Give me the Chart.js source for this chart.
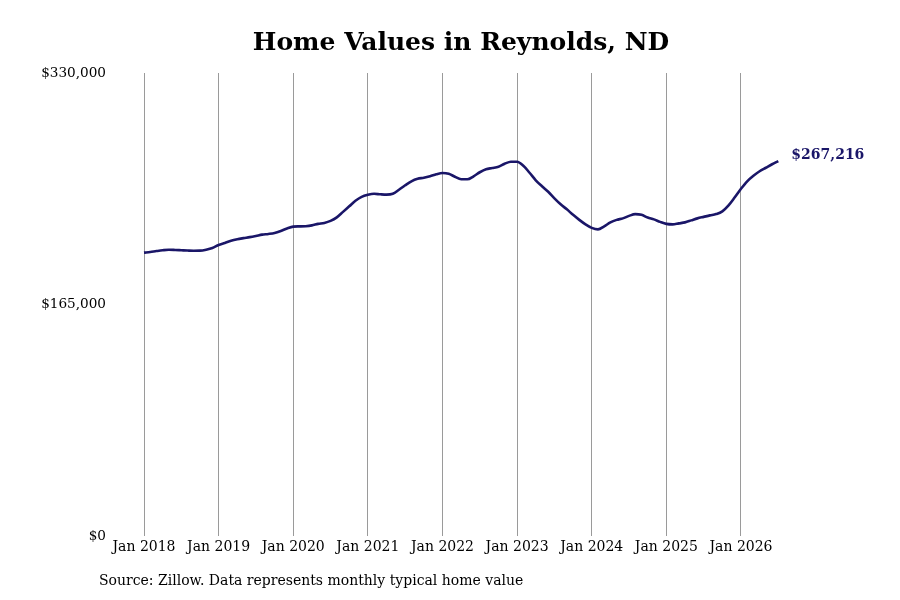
<!DOCTYPE html>
<html>
<head>
<meta charset="utf-8">
<script src="https://cdn.jsdelivr.net/npm/chart.js@4.4.1/dist/chart.umd.min.js"></script>
<style>
  html, body { margin: 0; padding: 0; background: #ffffff; }
  #wrap { width: 900px; height: 600px; position: relative; }
</style>
</head>
<body>
<div id="wrap"><canvas id="c" width="900" height="600"></canvas></div>
<script>
// ---- data (monthly typical home value, Jan 2018 .. Jul 2026) ----
const startYear = 2018;
const homeValues = [
  // 2018
  202000, 202500, 203143, 203714, 204071, 203929, 203714, 203500, 203357, 203429, 204143, 205357,
  // 2019
  207500, 208929, 210500, 211571, 212357, 213071, 213929, 214857, 215357, 216071, 217500, 219286,
  // 2020
  220571, 220714, 220857, 221429, 222500, 223214, 224643, 227143, 231071, 235000, 238929, 241786,
  // 2021
  243214, 243929, 243571, 243357, 243929, 246786, 250000, 252857, 254643, 255357, 256429, 257857,
  // 2022
  258786, 258214, 256071, 254286, 254286, 256429, 259286, 261429, 262286, 263214, 265357, 266786,
  // 2023
  266786, 263929, 258929, 253571, 249286, 245357, 240714, 236429, 232857, 228929, 225357, 222143,
  // 2024
  219643, 218571, 220714, 223571, 225357, 226429, 228214, 229429, 228929, 227000, 225714, 223929,
  // 2025
  222500, 222143, 222857, 223571, 225000, 226429, 227500, 228571, 229500, 231429, 235714, 241429,
  // 2026
  247500, 252857, 256786, 260000, 262500, 265000, 267216
];
const xTickLabels = ["Jan 2018","Jan 2019","Jan 2020","Jan 2021","Jan 2022","Jan 2023","Jan 2024","Jan 2025","Jan 2026"];
const yTickValues = [0, 165000, 330000];
const yTickLabels = ["$0", "$165,000", "$330,000"];
const titleText = "Home Values in Reynolds, ND";
const sourceText = "Source: Zillow. Data represents monthly typical home value";
const endLabel = "$267,216";

const points = homeValues.map((v, i) => ({ x: i, y: v }));
const FONT = "'DejaVu Serif', serif";
const NAVY = "#1a1668";
// x range extends past the last month to leave room for the end label
const xMax = (homeValues.length - 1) * 756 / 634.3;

const extraText = {
  id: 'extraText',
  afterDatasetsDraw(chart) {
    const ctx = chart.ctx;
    const xs = chart.scales.x, ys = chart.scales.y;
    const last = points[points.length - 1];
    const px = xs.getPixelForValue(last.x), py = ys.getPixelForValue(last.y);
    ctx.save();
    ctx.font = "bold 14px " + FONT;
    ctx.fillStyle = NAVY;
    ctx.textAlign = 'left';
    ctx.textBaseline = 'middle';
    ctx.fillText(endLabel, px + 13, py - 6);
    ctx.font = "14px " + FONT;
    ctx.fillStyle = "#000000";
    ctx.fillText(sourceText, 99, 581);
    ctx.restore();
  }
};

new Chart(document.getElementById('c'), {
  type: 'line',
  data: {
    datasets: [{
      data: points,
      borderColor: NAVY,
      borderWidth: 2.6,
      pointRadius: 0,
      cubicInterpolationMode: 'monotone',
      fill: false,
      clip: false
    }]
  },
  options: {
    responsive: false,
    devicePixelRatio: 1,
    animation: false,
    layout: { padding: { left: 22, right: 0, top: 0, bottom: 41 } },
    plugins: {
      legend: { display: false },
      tooltip: { enabled: false },
      title: {
        display: true,
        text: titleText,
        color: '#000000',
        font: { family: FONT, size: 25, weight: 'bold', lineHeight: 1.2 },
        padding: { top: 28, bottom: 15 }
      }
    },
    scales: {
      x: {
        type: 'linear',
        min: 0,
        max: xMax,
        afterBuildTicks(scale) {
          scale.ticks = xTickLabels.map((_, i) => ({ value: i * 12 }));
        },
        ticks: {
          autoSkip: false,
          maxRotation: 0,
          padding: 3,
          color: '#000000',
          font: { family: FONT, size: 14 },
          callback: (v) => xTickLabels[Math.round(v / 12)]
        },
        grid: { display: true, color: '#9a9a9a', lineWidth: 1, drawTicks: false },
        border: { display: false }
      },
      y: {
        type: 'linear',
        min: 0,
        max: 330000,
        afterBuildTicks(scale) {
          scale.ticks = yTickValues.map(v => ({ value: v }));
        },
        afterFit(scale) { scale.width = 122; },
        ticks: {
          padding: 38,
          color: '#000000',
          font: { family: FONT, size: 13.6 },
          callback: (v) => yTickLabels[yTickValues.indexOf(v)]
        },
        grid: { display: false, drawTicks: false },
        border: { display: false }
      }
    }
  },
  plugins: [extraText]
});
</script>
</body>
</html>
